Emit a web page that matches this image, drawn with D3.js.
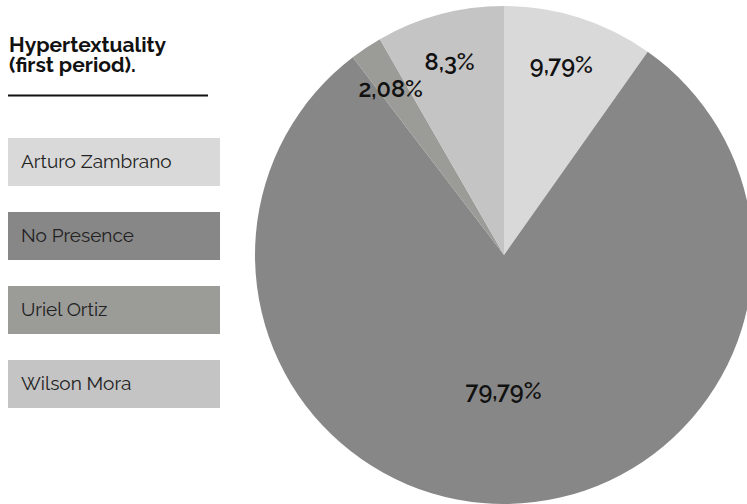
<!DOCTYPE html>
<html>
<head>
<meta charset="utf-8">
<script src="https://cdn.jsdelivr.net/npm/d3@7"></script>
<style>
  html, body { margin: 0; padding: 0; background: #fff; }
  svg { display: block; }
</style>
</head>
<body>
<svg id="chart" width="747" height="504"></svg>
<script>
const categories = ["Arturo Zambrano", "No Presence", "Uriel Ortiz", "Wilson Mora"];
const values = [9.79, 79.79, 2.08, 8.3];
const labels = ["9,79%", "79,79%", "2,08%", "8,3%"];
const colors = ["#d9d9d9", "#878787", "#9b9b98", "#c4c4c4"];
const title = ["Hypertextuality", "(first period)."];

const FONT = "Raleway, Lato, 'Open Sans', sans-serif";
const svg = d3.select("#chart");
const cx = 504, cy = 255, R = 249;

const data = categories.map((c, i) => ({ name: c, value: values[i], label: labels[i], color: colors[i] }));

const pie = d3.pie().sort(null).value(d => d.value);
const arcs = pie(data);
const arc = d3.arc().innerRadius(0).outerRadius(R);

const g = svg.append("g").attr("transform", `translate(${cx},${cy})`);
g.selectAll("path").data(arcs).join("path")
  .attr("d", arc)
  .attr("fill", d => d.data.color);

const labelArcSmall = d3.arc().innerRadius(R * 0.8).outerRadius(R * 0.8);
const labelArcBig = d3.arc().innerRadius(R * 0.55).outerRadius(R * 0.55);
g.selectAll("text").data(arcs).join("text")
  .attr("transform", d => {
    const a = (d.endAngle - d.startAngle) > Math.PI ? labelArcBig : labelArcSmall;
    const [x, y] = a.centroid(d);
    return `translate(${x - 3},${y - 1})`;
  })
  .attr("text-anchor", "middle")
  .attr("dominant-baseline", "central")
  .attr("font-family", FONT)
  .attr("font-weight", 600)
  .attr("font-size", 23.5)
  .attr("fill", "#111")
  .text(d => d.data.label);

// Title
svg.append("g").selectAll("text").data(title).join("text")
  .attr("x", 9)
  .attr("y", (d, i) => 52 + i * 20)
  .attr("font-family", FONT)
  .attr("font-weight", "bold")
  .attr("font-size", 21)
  .attr("fill", "#111")
  .text(d => d);
svg.append("line")
  .attr("x1", 8).attr("x2", 208)
  .attr("y1", 95.5).attr("y2", 95.5)
  .attr("stroke", "#111").attr("stroke-width", 2);

// Legend
const legendY = d3.scalePoint().domain(categories).range([138, 360]);
const lg = svg.append("g").selectAll("g").data(data).join("g")
  .attr("transform", d => `translate(8,${legendY(d.name)})`);
lg.append("rect")
  .attr("width", 212).attr("height", 48)
  .attr("fill", d => d.color);
lg.append("text")
  .attr("x", 13).attr("y", 23)
  .attr("dominant-baseline", "central")
  .attr("font-family", FONT)
  .attr("font-size", 19)
  .attr("fill", "#222")
  .text(d => d.name);
</script>
</body>
</html>
